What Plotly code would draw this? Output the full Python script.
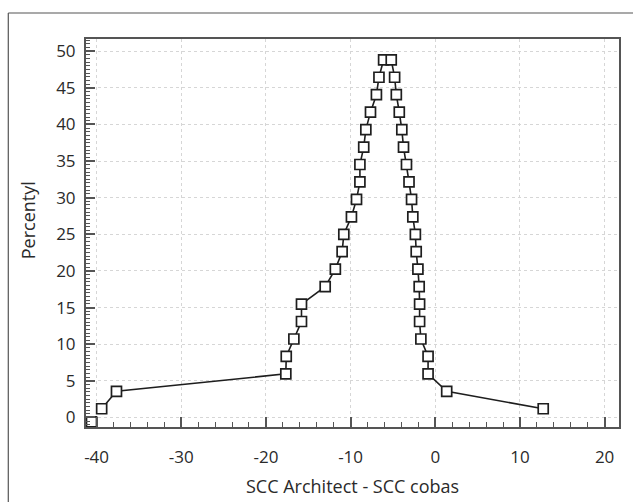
import plotly.graph_objects as go

# Mountain plot data (difference, folded percentile)
diff_values = [-39.4, -37.65, -17.65, -17.6, -16.7, -15.8, -15.8, -13.0, -11.8, -11.0,
               -10.8, -9.9, -9.3, -8.9, -8.9, -8.45, -8.2, -7.65, -6.95, -6.65,
               -6.1,
               -5.2, -4.8, -4.6, -4.25, -3.95, -3.75, -3.4, -3.1, -2.8, -2.65,
               -2.35, -2.25, -2.05, -1.9, -1.85, -1.85, -1.7, -0.85, -0.85, 1.35,
               12.75]
percentiles = [1.19, 3.57, 5.95, 8.33, 10.71, 13.10, 15.48, 17.86, 20.24, 22.62,
               25.00, 27.38, 29.76, 32.14, 34.52, 36.90, 39.29, 41.67, 44.05, 46.43,
               48.81,
               48.81, 46.43, 44.05, 41.67, 39.29, 36.90, 34.52, 32.14, 29.76, 27.38,
               25.00, 22.62, 20.24, 17.86, 15.48, 13.10, 10.71, 8.33, 5.95, 3.57,
               1.19]
corner_x = [-40.6]
corner_y = [-0.6]

x_ticks = [-40, -30, -20, -10, 0, 10, 20]
y_ticks = [0, 5, 10, 15, 20, 25, 30, 35, 40, 45, 50]

W, H = 633, 502
L, R, T, B = 86, 12, 39, 75
pw, ph = W - L - R, H - T - B

fig = go.Figure()
fig.add_trace(go.Scatter(
    x=diff_values, y=percentiles, mode="lines+markers",
    line=dict(color="#1e1e1e", width=1.6),
    marker=dict(symbol="square", size=10, color="white",
                line=dict(color="#1e1e1e", width=1.7)),
    showlegend=False, hoverinfo="x+y"))
fig.add_trace(go.Scatter(
    x=corner_x, y=corner_y, mode="markers", cliponaxis=False,
    marker=dict(symbol="square", size=10, color="white",
                line=dict(color="#1e1e1e", width=1.7)),
    showlegend=False))

font = dict(family="Open Sans, Noto Sans, sans-serif", size=17, color="#2a2a2a")
title_font = dict(family="Open Sans, sans-serif", size=18, color="#2a2a2a")

fig.update_layout(
    width=W, height=H,
    margin=dict(l=L, r=R, t=T, b=B, pad=0),
    paper_bgcolor="white", plot_bgcolor="white",
    font=font,
    xaxis=dict(
        range=[-41.25, 21.7], tickvals=x_ticks, ticktext=[str(v) for v in x_ticks],
        showgrid=True, gridcolor="#d6d6d6", griddash="dot", gridwidth=1,
        zeroline=False, showline=True, linecolor="#555555", linewidth=2, mirror=True,
        ticks="inside", ticklen=10, tickwidth=1.5, tickcolor="#555555",
        ticklabelstandoff=14,
        minor=dict(dtick=2, tick0=0, ticks="inside", ticklen=5, tickwidth=1.2,
                   tickcolor="#555555", showgrid=False),
        tickfont=font,
    ),
    yaxis=dict(
        range=[-1.3, 51.65], tickvals=y_ticks, ticktext=[str(v) for v in y_ticks],
        showgrid=True, gridcolor="#d6d6d6", griddash="dot", gridwidth=1,
        zeroline=False, showline=True, linecolor="#555555", linewidth=2, mirror=True,
        ticks="inside", ticklen=9, tickwidth=1.5, tickcolor="#555555",
        ticklabelstandoff=5,
        minor=dict(dtick=0.5, tick0=0, ticks="inside", ticklen=4, tickwidth=1,
                   tickcolor="#555555", showgrid=False),
        tickfont=font,
    ),
    annotations=[
        dict(text="SCC Architect - SCC cobas", xref="paper", yref="paper",
             x=0.5, y=(H - 486 - B) / ph, xanchor="center", yanchor="middle",
             showarrow=False, font=title_font),
        dict(text="Percentyl", xref="paper", yref="paper",
             x=(28 - L) / pw, y=(H - B - 220) / ph, xanchor="center", yanchor="middle",
             textangle=-90, showarrow=False, font=title_font),
    ],
    shapes=[
        dict(type="line", xref="paper", yref="paper",
             x0=(8 - L) / pw, x1=(W + 5 - L) / pw,
             y0=(H - B - 13) / ph, y1=(H - B - 13) / ph,
             line=dict(color="#555555", width=1.2)),
        dict(type="line", xref="paper", yref="paper",
             x0=(8 - L) / pw, x1=(8 - L) / pw,
             y0=(H - B - 13) / ph, y1=(H - B - H - 5) / ph,
             line=dict(color="#555555", width=1.2)),
    ],
)

fig.write_html("out.html", config={"displayModeBar": False},
               post_script="document.body.style.margin='0';document.body.style.overflow='hidden';")
